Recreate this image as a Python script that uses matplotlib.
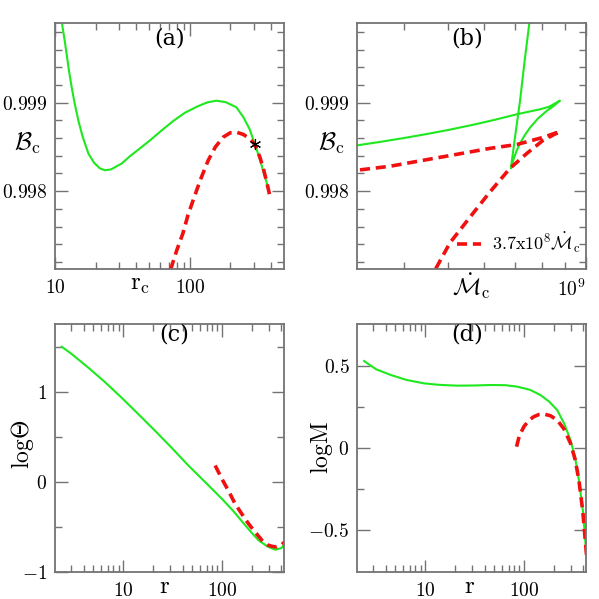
import numpy as np
import matplotlib
matplotlib.use('Agg')
import matplotlib.pyplot as plt
from matplotlib.ticker import FixedLocator, FixedFormatter, NullFormatter

plt.rcParams['mathtext.fontset'] = 'cm'
plt.rcParams['font.family'] = ['DejaVu Serif']

GREEN = '#1ee81e'
RED = '#f01010'
FRAME = '0.45'

# panel (a): B_c against r_c
ra_green = [11.3, 11.8, 12.2, 12.7, 13.3, 14.0, 14.9, 16.0, 17.7, 19.5, 21.5, 23.4, 26, 29, 31.2,
            36, 43.9, 50.6, 61.7, 75, 91.8, 115, 135, 157.7, 185, 221.8, 250, 278, 303, 330, 349,
            370, 385]
Ba_green = [0.999884, 0.999700, 0.999547, 0.999360, 0.999172, 0.998990, 0.998798, 0.998620,
            0.998424, 0.998320, 0.998258, 0.998236, 0.998245, 0.998285, 0.998311, 0.998395,
            0.998498, 0.998573, 0.998685, 0.998790, 0.998885, 0.998960, 0.999003, 0.999022,
            0.999005, 0.998947, 0.998835, 0.998700, 0.998536, 0.998370, 0.998236, 0.998110,
            0.998010]
ra_red = [72, 80, 89, 97, 106, 120, 137, 155, 177, 200, 222, 250, 278, 303, 330, 349, 370, 390]
Ba_red = [0.997112, 0.997330, 0.997525, 0.997730, 0.997899, 0.998130, 0.998348, 0.998500,
          0.998610, 0.998660, 0.998666, 0.998640, 0.998592, 0.998530, 0.998390, 0.998273,
          0.998120, 0.997966]
r_star, B_star = 303, 0.998536

# panel (b): B_c against Mdot_c (log10 values)
logm_green = [8.876, 8.866, 8.856, 8.846, 8.836, 8.841, 8.848, 8.856, 8.866, 8.878, 8.895,
              8.915, 8.930, 8.943, 8.920, 8.900, 8.850, 8.800, 8.750, 8.700, 8.650, 8.600,
              8.550, 8.500]
Bb_green = [0.999888, 0.999472, 0.999022, 0.998648, 0.998258, 0.998348, 0.998450, 0.998539,
            0.998630, 0.998719, 0.998820, 0.998910, 0.998965, 0.999022, 0.998955, 0.998925,
            0.998870, 0.998805, 0.998746, 0.998692, 0.998643, 0.998598, 0.998556, 0.998517]
logm_red = [8.672, 8.703, 8.747, 8.790, 8.834, 8.871, 8.906, 8.943, 8.906, 8.849, 8.790,
            8.718, 8.644, 8.572, 8.500]
Bb_red = [0.997124, 0.997416, 0.997708, 0.997989, 0.998258, 0.998427, 0.998573, 0.998674,
          0.998607, 0.998527, 0.998483, 0.998416, 0.998348, 0.998281, 0.998236]

# panel (c): log Theta against r
rc_green = [2.40, 3.0, 4.41, 6.5, 9.63, 14, 21.0, 31, 45.8, 68, 100, 130, 160, 200, 236, 290,
            348, 400, 425]
th_green = [1.498, 1.420, 1.270, 1.110, 0.935, 0.760, 0.568, 0.378, 0.181, -0.005, -0.188,
            -0.322, -0.440, -0.565, -0.650, -0.718, -0.753, -0.735, -0.700]
rc_red = [85.5, 100, 118, 136, 160, 186, 220, 255, 290, 322, 360, 400, 430]
th_red = [0.181, 0.033, -0.110, -0.244, -0.360, -0.465, -0.565, -0.650, -0.700, -0.716,
          -0.722, -0.700, -0.668]

# panel (d): log M against r
rd_green = [2.42, 3.2, 4.51, 6.5, 9.77, 14, 21.2, 31, 46.1, 65, 85.7, 115, 147, 180, 217, 255,
            296, 330, 360, 395, 423]
M_green = [0.530, 0.480, 0.445, 0.415, 0.394, 0.385, 0.380, 0.381, 0.384, 0.383, 0.374, 0.355,
           0.323, 0.283, 0.232, 0.150, 0.049, -0.060, -0.195, -0.380, -0.602]
rd_red = [84.3, 90, 100, 112, 126, 142, 159, 185, 217, 255, 296, 330, 360, 395, 430]
M_red = [0.008, 0.075, 0.130, 0.168, 0.191, 0.204, 0.207, 0.197, 0.171, 0.115, 0.029, -0.070,
         -0.195, -0.390, -0.652]

fig = plt.figure(figsize=(5.99, 5.99), dpi=100)
W = 599.0
ax_a = fig.add_axes([55 / W, 1 - 269 / W, 229 / W, 246 / W])
ax_b = fig.add_axes([357 / W, 1 - 269 / W, 229 / W, 246 / W])
ax_c = fig.add_axes([55 / W, 1 - 572 / W, 229 / W, 248 / W])
ax_d = fig.add_axes([357 / W, 1 - 572 / W, 229 / W, 248 / W])

dash = dict(color=RED, lw=2.6, dashes=(2.8, 1.6))
solid = dict(color=GREEN, lw=1.5)


def style(ax):
    for s in ax.spines.values():
        s.set_color(FRAME)
        s.set_linewidth(1.3)
    ax.tick_params(which='both', direction='in', top=True, right=True, color=FRAME,
                   labelsize=14, width=1.0)
    ax.tick_params(which='major', length=9)
    ax.tick_params(axis='x', which='major', pad=7)
    ax.tick_params(axis='y', which='major', pad=5.5)
    ax.tick_params(which='minor', length=5)


def set_ticks(ax, axis, major, labels, minor):
    a = ax.xaxis if axis == 'x' else ax.yaxis
    a.set_major_locator(FixedLocator(major))
    a.set_major_formatter(FixedFormatter(labels))
    a.set_minor_locator(FixedLocator(minor))
    a.set_minor_formatter(NullFormatter())


minor_r = [2, 3, 4, 5, 6, 7, 8, 9, 20, 30, 40, 50, 60, 70, 80, 90, 200, 300, 400]
minor_B = list(np.arange(0.9972, 0.99991, 0.0002))

# (a)
ax_a.plot(ra_green, Ba_green, **solid)
ax_a.plot(ra_red, Ba_red, **dash)
ax_a.plot([r_star], [B_star], marker=(6, 2, 0), ms=8, color='k', mew=0.8, ls='none')
ax_a.set_xscale('log')
ax_a.set_xlim(10, 500)
ax_a.set_ylim(0.99712, 0.9999)
set_ticks(ax_a, 'x', [10, 100], ['$10$', '$100$'], minor_r)
set_ticks(ax_a, 'y', [0.998, 0.999], ['$0.998$', '$0.999$'], minor_B)
ax_a.text(0.5, 0.935, '(a)', transform=ax_a.transAxes, ha='center', va='center', fontsize=16)
ax_a.text(-0.12, 0.51, r'$\mathcal{B}_{\rm c}$', transform=ax_a.transAxes, ha='center',
          va='center', fontsize=18)
ax_a.text(0.37, -0.065, r'$\rm r_c$', transform=ax_a.transAxes, ha='center', va='center',
          fontsize=18)

# (b)
ax_b.plot(10 ** np.array(logm_green), Bb_green, **solid)
ax_b.plot(10 ** np.array(logm_red), Bb_red, label=r'$3.7{\rm x}10^8\dot{\mathcal{M}}_{\rm c}$', **dash)
ax_b.set_xscale('log')
ax_b.set_xlim(10 ** 8.5, 1e9)
ax_b.set_ylim(0.99712, 0.9999)
set_ticks(ax_b, 'x', [1e9], ['$10^9$'], [4e8, 5e8, 6e8, 7e8, 8e8, 9e8])
set_ticks(ax_b, 'y', [0.998, 0.999], ['$0.998$', '$0.999$'], minor_B)
ax_b.text(0.48, 0.935, '(b)', transform=ax_b.transAxes, ha='center', va='center', fontsize=16)
ax_b.text(-0.11, 0.51, r'$\mathcal{B}_{\rm c}$', transform=ax_b.transAxes, ha='center',
          va='center', fontsize=18)
ax_b.text(0.50, -0.07, r'$\dot{\mathcal{M}}_{\rm c}$', transform=ax_b.transAxes, ha='center',
          va='center', fontsize=17)
ax_b.legend(loc='center right', bbox_to_anchor=(0.975, 0.106), frameon=False, fontsize=13,
            handlelength=1.3, handletextpad=0.6, borderpad=0, borderaxespad=0)
for lbl in ax_b.get_xticklabels():
    lbl.set_horizontalalignment('right')
    lbl.set_x(0)

# (c)
ax_c.plot(rc_green, th_green, **solid)
ax_c.plot(rc_red, th_red, **dash)
ax_c.set_xscale('log')
ax_c.set_xlim(2.05, 425)
ax_c.set_ylim(-1, 1.75)
set_ticks(ax_c, 'x', [10, 100], ['$10$', '$100$'], minor_r)
set_ticks(ax_c, 'y', [-1, 0, 1], ['$-1$', '$0$', '$1$'], [-0.5, 0.5, 1.5])
ax_c.text(0.52, 0.956, '(c)', transform=ax_c.transAxes, ha='center', va='center', fontsize=16)
ax_c.text(-0.14, 0.515, r'$\rm log\Theta$', transform=ax_c.transAxes, ha='center',
          va='center', fontsize=17, rotation=90)
ax_c.text(0.48, -0.06, r'$\rm r$', transform=ax_c.transAxes, ha='center', va='center',
          fontsize=18)

# (d)
ax_d.plot(rd_green, M_green, **solid)
ax_d.plot(rd_red, M_red, **dash)
ax_d.set_xscale('log')
ax_d.set_xlim(2.05, 425)
ax_d.set_ylim(-0.756, 0.756)
set_ticks(ax_d, 'x', [10, 100], ['$10$', '$100$'], minor_r)
set_ticks(ax_d, 'y', [-0.5, 0, 0.5], ['$-0.5$', '$0$', '$0.5$'], [-0.25, 0.25])
ax_d.text(0.48, 0.956, '(d)', transform=ax_d.transAxes, ha='center', va='center', fontsize=16)
ax_d.text(-0.155, 0.5, r'$\rm logM$', transform=ax_d.transAxes, ha='center', va='center',
          fontsize=17, rotation=90)
ax_d.text(0.49, -0.06, r'$\rm r$', transform=ax_d.transAxes, ha='center', va='center',
          fontsize=18)

for ax in (ax_a, ax_b, ax_c, ax_d):
    style(ax)

fig.savefig('out.png', dpi=100)
